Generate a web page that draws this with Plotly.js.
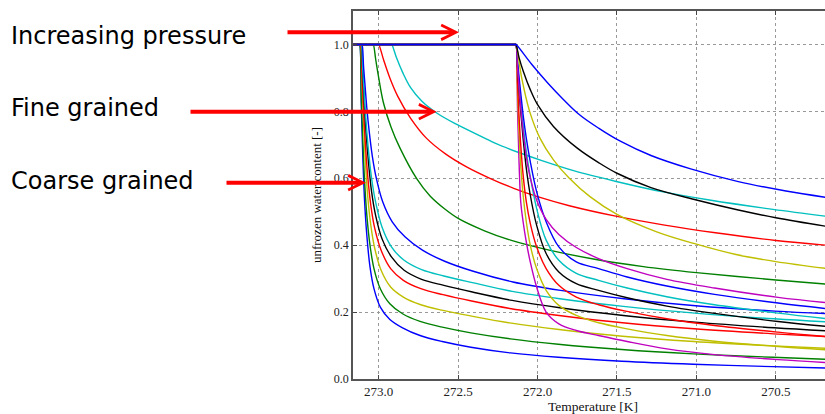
<!DOCTYPE html>
<html>
<head>
<meta charset="utf-8">
<script src="https://cdn.plot.ly/plotly-3.0.1.min.js"></script>
<style>
html,body{margin:0;padding:0;overflow:hidden;background:#fff;}
#chart{width:833px;height:414px;}
</style>
</head>
<body>
<div id="chart"></div>
<script>
// ---- Data (Temperature [K] vs unfrozen water content [-]) ----
// Family A: atmospheric pressure (freezing onset near 273.1 K)
const tA12 = [273.17, 273.123, 273.12, 273.11, 273.10, 273.09, 273.075, 273.055, 273.03, 272.99, 272.93, 272.85, 272.74, 272.60, 272.42, 272.17, 271.87, 271.47, 271.02, 270.52, 270.12];
const tA34 = [273.17, 273.118, 273.115, 273.105, 273.095, 273.085, 273.07, 273.05, 273.025, 272.985, 272.925, 272.845, 272.735, 272.595, 272.415, 272.165, 271.865, 271.465, 271.015, 270.515, 270.115];
const tA56 = [273.17, 273.113, 273.11, 273.10, 273.09, 273.08, 273.065, 273.045, 273.02, 272.98, 272.92, 272.84, 272.73, 272.59, 272.41, 272.16, 271.86, 271.46, 271.01, 270.51, 270.11];
const tA7  = [273.17, 273.108, 273.105, 273.095, 273.085, 273.075, 273.06, 273.04, 273.015, 272.975, 272.915, 272.835, 272.725, 272.585, 272.405, 272.155, 271.855, 271.455, 271.005, 270.505, 270.105];
const vA1 = [1, 1, 1, 0.82, 0.66, 0.54, 0.43, 0.335, 0.27, 0.215, 0.178, 0.153, 0.13, 0.112, 0.095, 0.078, 0.065, 0.053, 0.044, 0.037, 0.032];
const vA2 = [1, 1, 1, 0.85, 0.71, 0.60, 0.49, 0.40, 0.33, 0.27, 0.225, 0.195, 0.172, 0.155, 0.138, 0.12, 0.104, 0.088, 0.075, 0.065, 0.058];
const vA3 = [1, 1, 1, 0.88, 0.76, 0.66, 0.55, 0.46, 0.39, 0.325, 0.275, 0.245, 0.222, 0.205, 0.188, 0.167, 0.148, 0.128, 0.112, 0.099, 0.09];
const vA4 = [1, 1, 1, 0.90, 0.80, 0.71, 0.61, 0.52, 0.45, 0.385, 0.33, 0.295, 0.27, 0.252, 0.233, 0.21, 0.19, 0.168, 0.15, 0.135, 0.125];
const vA5 = [1, 1, 1, 0.91, 0.82, 0.74, 0.65, 0.56, 0.49, 0.42, 0.365, 0.325, 0.298, 0.28, 0.26, 0.235, 0.213, 0.19, 0.17, 0.153, 0.142];
const vA6 = [1, 1, 1, 0.92, 0.84, 0.77, 0.685, 0.60, 0.53, 0.455, 0.395, 0.355, 0.327, 0.308, 0.288, 0.262, 0.24, 0.217, 0.197, 0.18, 0.169];
const vA7 = [1, 1, 1, 0.93, 0.87, 0.81, 0.74, 0.665, 0.60, 0.53, 0.47, 0.425, 0.385, 0.352, 0.322, 0.29, 0.265, 0.24, 0.219, 0.203, 0.194];
const tA8 = [273.17, 273.037, 273.034, 273.019, 273.0, 272.97, 272.924, 272.866, 272.76, 272.677, 272.584, 272.5, 272.334, 272.17, 271.934, 271.64, 271.334, 271.0, 270.5, 270.14];
const vA8 = [1, 1, 1, 0.955, 0.90, 0.825, 0.755, 0.69, 0.598, 0.547, 0.508, 0.48, 0.443, 0.415, 0.386, 0.358, 0.336, 0.318, 0.296, 0.282];
const tA9 = [273.17, 273.003, 273.0, 272.97, 272.93, 272.88, 272.8, 272.7, 272.58, 272.45, 272.3, 272.15, 272.0, 271.8, 271.5, 271.2, 270.88, 270.5, 270.14];
const vA9 = [1, 1, 1, 0.955, 0.90, 0.845, 0.78, 0.72, 0.673, 0.635, 0.60, 0.57, 0.545, 0.518, 0.486, 0.46, 0.437, 0.414, 0.398];
const tA10 = [273.17, 272.921, 272.918, 272.888, 272.848, 272.798, 272.728, 272.635, 272.518, 272.398, 272.268, 272.118, 271.968, 271.768, 271.518, 271.218, 270.918, 270.518, 270.14];
const vA10 = [1, 1, 1, 0.96, 0.915, 0.87, 0.83, 0.795, 0.763, 0.735, 0.705, 0.677, 0.652, 0.622, 0.592, 0.56, 0.535, 0.507, 0.484];

// Family B: increased pressure (freezing onset near 272.14 K)
const tB1 = [273.17, 272.139, 272.136, 272.036, 271.936, 271.836, 271.736, 271.616, 271.476, 271.286, 271.036, 270.736, 270.436, 270.14];
const vB1 = [1, 1, 1, 0.94, 0.885, 0.835, 0.79, 0.75, 0.71, 0.668, 0.628, 0.59, 0.562, 0.54];
const tB2 = [273.17, 272.139, 272.136, 272.116, 272.09, 272.046, 272.0, 271.9, 271.75, 271.61, 271.5, 271.286, 271.0, 270.736, 270.5, 270.14];
const vB2 = [1, 1, 1, 0.96, 0.92, 0.865, 0.82, 0.755, 0.69, 0.645, 0.615, 0.572, 0.535, 0.505, 0.482, 0.453];
const tB3 = [273.17, 272.139, 272.136, 272.1, 272.05, 271.985, 271.9, 271.8, 271.67, 271.5, 271.25, 271.0, 270.75, 270.5, 270.14];
const vB3 = [1, 1, 1, 0.90, 0.80, 0.72, 0.655, 0.60, 0.545, 0.492, 0.44, 0.403, 0.372, 0.351, 0.328];
const tBc = [273.17, 272.139, 272.136, 272.126, 272.116, 272.106, 272.091, 272.071, 272.046, 272.006, 271.946, 271.866, 271.756, 271.616, 271.436, 271.186, 270.886, 270.486, 270.136];
const vB4 = [1, 1, 1, 0.93, 0.87, 0.81, 0.74, 0.665, 0.602, 0.535, 0.477, 0.432, 0.393, 0.36, 0.33, 0.298, 0.272, 0.244, 0.226];
const vB5 = [1, 1, 1, 0.95, 0.90, 0.855, 0.79, 0.72, 0.65, 0.56, 0.47, 0.395, 0.35, 0.33, 0.305, 0.278, 0.253, 0.227, 0.208];
const vB6 = [1, 1, 1, 0.94, 0.88, 0.83, 0.76, 0.68, 0.605, 0.51, 0.415, 0.355, 0.316, 0.295, 0.272, 0.246, 0.222, 0.197, 0.178];
const vB7 = [1, 1, 1, 0.93, 0.86, 0.80, 0.72, 0.63, 0.55, 0.46, 0.375, 0.32, 0.285, 0.265, 0.243, 0.218, 0.196, 0.172, 0.155];
const vB8 = [1, 1, 1, 0.88, 0.78, 0.70, 0.61, 0.53, 0.465, 0.395, 0.33, 0.28, 0.245, 0.222, 0.202, 0.18, 0.16, 0.14, 0.125];
const vB9 = [1, 1, 1, 0.85, 0.73, 0.64, 0.55, 0.47, 0.40, 0.33, 0.265, 0.22, 0.19, 0.168, 0.15, 0.13, 0.113, 0.097, 0.086];
const vB10 = [1, 1, 1, 0.80, 0.64, 0.53, 0.47, 0.41, 0.35, 0.275, 0.20, 0.165, 0.145, 0.13, 0.112, 0.09, 0.073, 0.058, 0.048];

const xTicks = [273.0, 272.5, 272.0, 271.5, 271.0, 270.5];
const yTicks = [0.0, 0.2, 0.4, 0.6, 0.8, 1.0];
const labels = ["Increasing pressure", "Fine grained", "Coarse grained"];

// ---- styling ----
const C = {b:'#0000ff', g:'#008000', r:'#ff0000', c:'#00bfbf', m:'#bf00bf', y:'#bfbf00', k:'#000000'};
const series = [
  [tA12, vA1, C.b], [tA12, vA2, C.g], [tA34, vA3, C.y], [tA34, vA4, C.r], [tA56, vA5, C.k],
  [tA56, vA6, C.c], [tA7, vA7, C.b], [tA8, vA8, C.g], [tA9, vA9, C.r], [tA10, vA10, C.c],
  [tBc, vB10, C.m], [tBc, vB9, C.y], [tBc, vB8, C.r], [tBc, vB7, C.k], [tBc, vB6, C.c],
  [tBc, vB5, C.b], [tBc, vB4, C.m], [tB3, vB3, C.y], [tB2, vB2, C.k], [tB1, vB1, C.b]
];
const traces = series.map(s => ({
  x: s[0], y: s[1], type: 'scatter', mode: 'lines',
  line: {color: s[2], width: 1.4, shape: 'spline', smoothing: 1},
  hoverinfo: 'skip', showlegend: false
}));

// plot-area geometry used to place the side labels/arrows in paper units
const L = 353, R = 833, T = 11, B = 379;
const px = v => (v - L) / (R - L);
const py = v => (B - v) / (B - T);

const textFont = {family: 'DejaVu Sans, Verdana, sans-serif', size: 24, color: '#000'};
const annotations = [
  {text: labels[0], x: px(9), y: py(36)},
  {text: labels[1], x: px(9), y: py(108)},
  {text: labels[2], x: px(9), y: py(181)}
].map(a => Object.assign(a, {xref: 'paper', yref: 'paper', xanchor: 'left', yanchor: 'middle', showarrow: false, font: textFont}));

const arrows = [
  {x: px(459), y: py(32.3), ax: 286 - 459},
  {x: px(436.7), y: py(111.7), ax: 189 - 436.7},
  {x: px(366), y: py(182.7), ax: 225 - 366}
].map(a => Object.assign(a, {xref: 'paper', yref: 'paper', ay: 0, text: '', showarrow: true,
  arrowhead: 5, arrowsize: 0.72, arrowwidth: 4, arrowcolor: '#ff0000', standoff: 0}));

const serif = 'Liberation Serif, Times New Roman, serif';
const layout = {
  width: 833, height: 414,
  margin: {l: L, r: 833 - R, t: T, b: 414 - B},
  paper_bgcolor: '#fff', plot_bgcolor: '#fff',
  showlegend: false,
  xaxis: {
    range: [273.162, 270.14], tickvals: xTicks, tickformat: '.1f',
    ticks: 'inside', ticklen: 4, tickcolor: '#444', mirror: 'ticks',
    showline: true, linecolor: '#555', linewidth: 1.8,
    showgrid: true, gridcolor: '#999', griddash: 'dot', gridwidth: 1,
    zeroline: false, tickfont: {family: serif, size: 13, color: '#222'},
    title: {text: 'Temperature [K]', font: {family: serif, size: 13.5, color: '#111'}, standoff: 6}
  },
  yaxis: {
    range: [0, 1.1], tickvals: yTicks, tickformat: '.1f',
    ticks: 'inside', ticklen: 4, tickcolor: '#444', mirror: 'ticks',
    showline: true, linecolor: '#555', linewidth: 1.8,
    showgrid: true, gridcolor: '#999', griddash: 'dot', gridwidth: 1,
    zeroline: false, tickfont: {family: serif, size: 12, color: '#222'},
    title: {text: 'unfrozen water content [-]', font: {family: serif, size: 13, color: '#111'}, standoff: 9}
  },
  annotations: annotations.concat(arrows)
};

Plotly.newPlot('chart', traces, layout, {staticPlot: true, displayModeBar: false});
</script>
</body>
</html>
